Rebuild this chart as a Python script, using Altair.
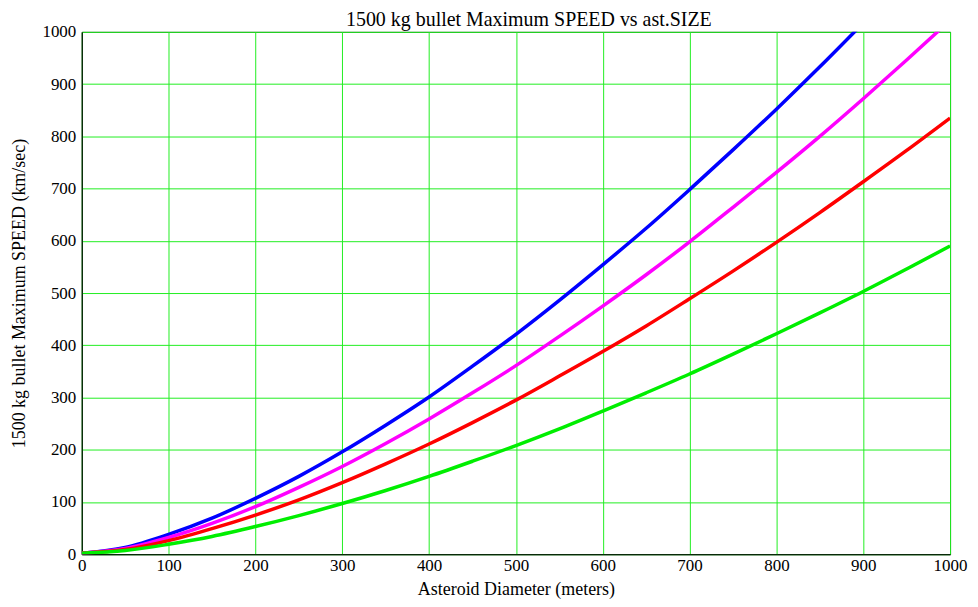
import altair as alt
import pandas as pd

diameter = [0, 50, 100, 150, 200, 250, 300, 350, 400, 450, 500, 550, 600, 650, 700, 750, 800, 850, 900, 950, 1000]
blue = [2, 13, 38, 69, 107, 149, 196, 247, 301, 360, 421, 486, 554, 624, 698, 774, 852, 933, 1017]
magenta = [2, 11, 32, 59, 91, 128, 168, 212, 259, 309, 361, 417, 475, 535, 598, 664, 731, 800, 872, 946, 1022]
red = [2, 9, 26, 49, 75, 104, 137, 173, 211, 252, 295, 341, 388, 437, 489, 542, 597, 654, 713, 773, 835]
green = [2, 7, 19, 34, 53, 74, 97, 122, 149, 178, 208, 240, 274, 309, 345, 383, 422, 462, 503, 546, 590]

series = [("a", blue), ("b", magenta), ("c", red), ("d", green)]
rows = []
for name, vals in series:
    for d, v in zip(diameter, vals):
        rows.append({"d": d, "v": v, "s": name})
df = pd.DataFrame(rows)

font = "Liberation Serif"

chart = alt.Chart(df).mark_line(strokeWidth=3.5, clip=True, interpolate="monotone").encode(
    x=alt.X("d:Q", scale=alt.Scale(domain=[0, 1000], nice=False),
            axis=alt.Axis(values=list(range(0, 1001, 100)), format="d",
                          title="Asteroid Diameter (meters)",
                          grid=True, gridColor="#22ee22", gridOpacity=1, ticks=False,
                          domainColor="#000000", labelFont=font, labelFontSize=17, labelColor="#000",
                          labelPadding=3, labelFlush=False,
                          titleFont=font, titleFontSize=18, titleFontWeight="normal",
                          titleColor="#000", titlePadding=7)),
    y=alt.Y("v:Q", scale=alt.Scale(domain=[0, 1000], nice=False),
            axis=alt.Axis(values=list(range(0, 1001, 100)), format="d",
                          title="1500 kg bullet Maximum SPEED (km/sec)",
                          grid=True, gridColor="#22ee22", gridOpacity=1, ticks=False,
                          domainColor="#000000", labelFont=font, labelFontSize=17, labelColor="#000",
                          labelPadding=6, labelFlush=False,
                          titleFont=font, titleFontSize=18, titleFontWeight="normal",
                          titleColor="#000", titlePadding=13)),
    color=alt.Color("s:N", scale=alt.Scale(domain=["a", "b", "c", "d"],
                                           range=["#0000ff", "#ff00ff", "#ff0000", "#00ee00"]),
                    legend=None),
).properties(
    width=871, height=524,
    title=alt.TitleParams("1500 kg bullet Maximum SPEED vs ast.SIZE", font=font, fontSize=20,
                          fontWeight="normal", color="#000", offset=0, dy=7, dx=13),
    autosize=alt.AutoSizeParams(type="none"),
    padding={"left": 74, "top": 23, "right": 20, "bottom": 45},
).configure_view(stroke="#000000", strokeWidth=1)

chart.save("out.html", embed_options={"renderer": "svg", "actions": False})
